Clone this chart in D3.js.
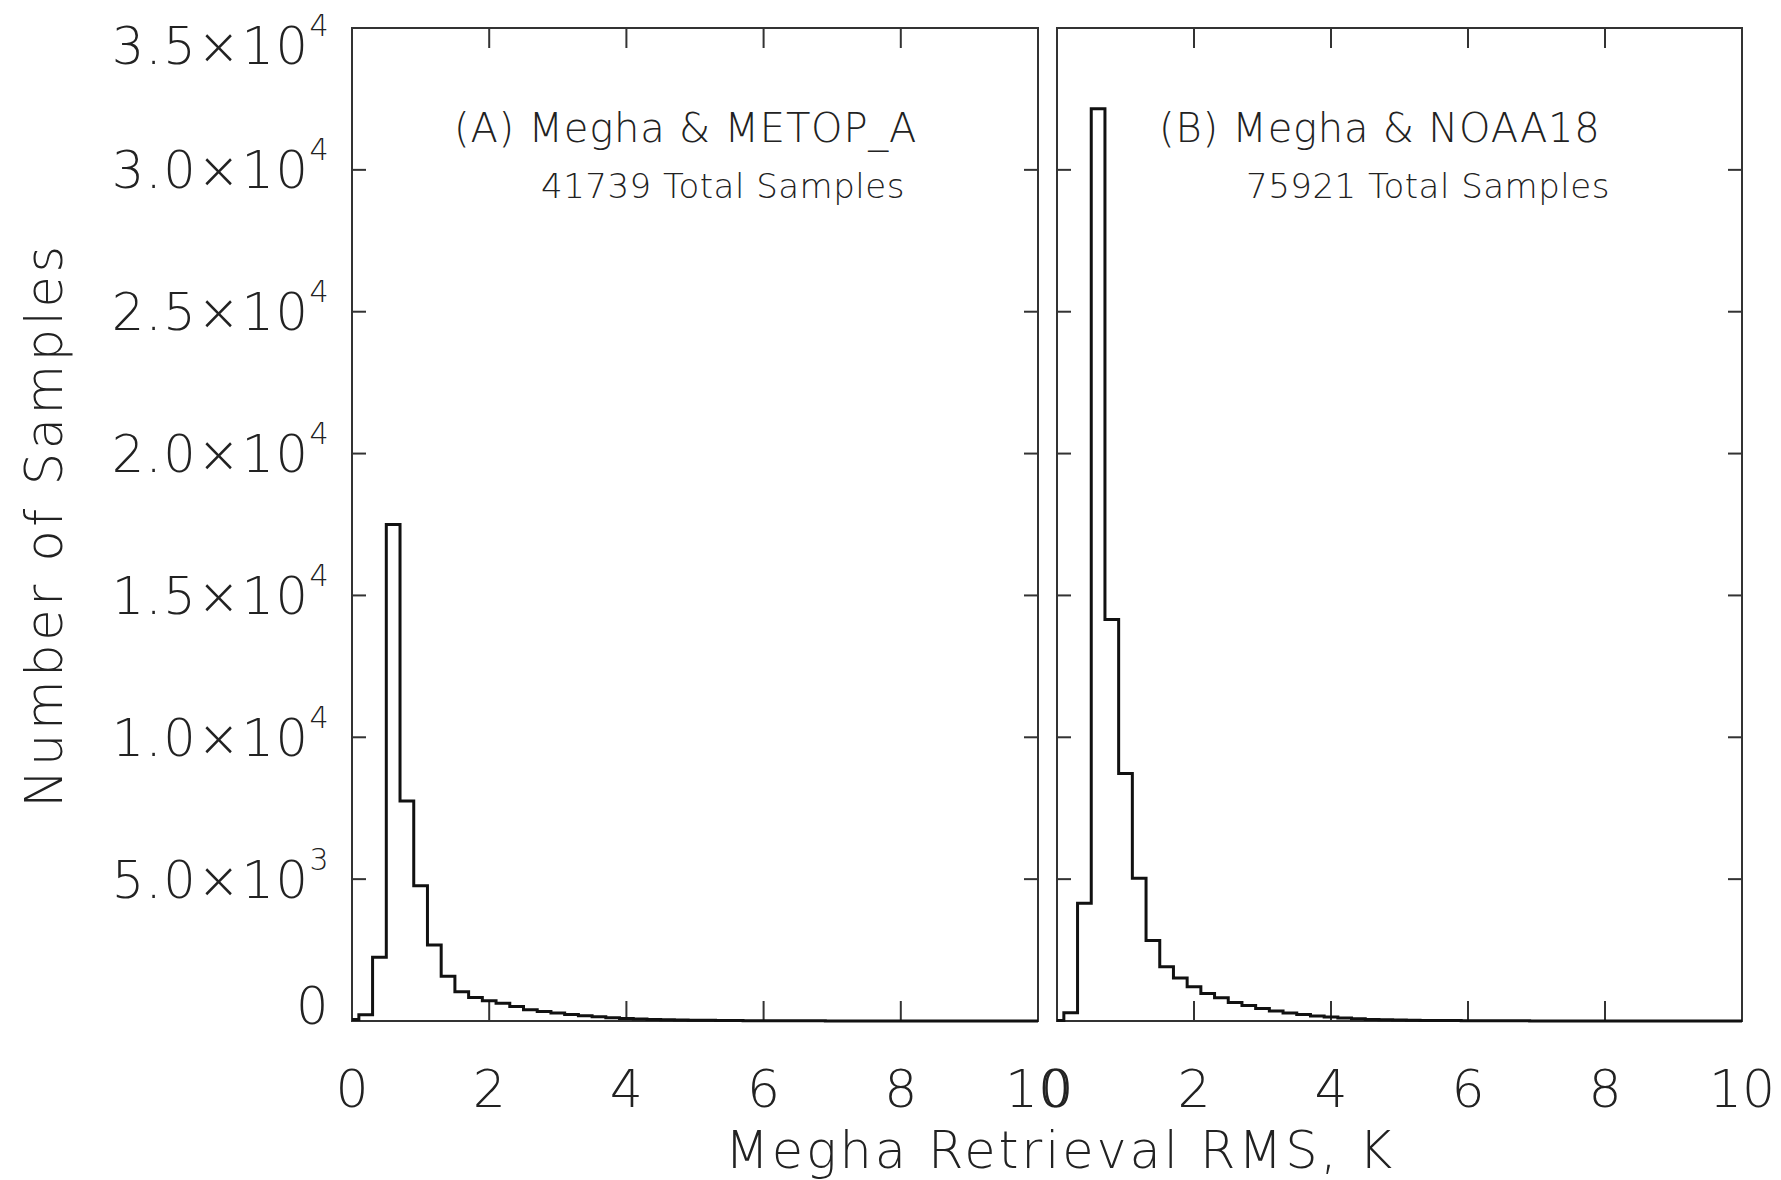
<!DOCTYPE html>
<meta charset="utf-8">

<!-- Load d3.js -->
<script src="https://d3js.org/d3.v7.min.js"></script>

<style>
  body { margin: 0; background: #fff; }
  text {
    font-family: 'DejaVu Sans', sans-serif;
    font-weight: 200;
    fill: #222;
  }
</style>

<body>
<div id="my_dataviz"></div>
</body>

<script>

// bin centres of the RMS histogram (K)
var binCenters = [0, 0.2, 0.4, 0.6, 0.8, 1.0, 1.2, 1.4, 1.6, 1.8,
                  2.0, 2.2, 2.4, 2.6, 2.8, 3.0, 3.2, 3.4, 3.6, 3.8,
                  4.0, 4.2, 4.4, 4.6, 4.8, 5.0, 5.2, 5.4, 5.6, 5.8,
                  6.0, 6.2, 6.4, 6.6, 6.8, 7.0, 7.2, 7.4, 7.6, 7.8,
                  8.0, 8.2, 8.4, 8.6, 8.8, 9.0, 9.2, 9.4, 9.6, 9.8, 10.0];

// (A) Megha & METOP_A counts
var countsA = [50, 220, 2250, 17500, 7750, 4770, 2680, 1580, 1030, 830,
               710, 630, 515, 400, 335, 280, 230, 185, 150, 118,
               92, 72, 57, 45, 36, 29, 23, 18, 15, 12,
               10, 8, 7, 6, 5, 4, 4, 3, 3, 2,
               2, 2, 1, 1, 1, 1, 1, 0, 0, 0, 0];

// (B) Megha & NOAA18 counts
var countsB = [20, 290, 4150, 32150, 14150, 8720, 5030, 2840, 1910, 1520,
               1210, 970, 820, 650, 550, 440, 350, 280, 225, 180,
               140, 105, 75, 55, 42, 33, 26, 21, 17, 14,
               11, 9, 7, 6, 5, 4, 4, 3, 3, 2,
               2, 2, 1, 1, 1, 1, 0, 0, 0, 0, 0];

var panelTitles = ["(A) Megha & METOP_A", "(B) Megha & NOAA18"];
var panelTotals = ["41739 Total Samples", "75921 Total Samples"];

// tick labels
var yTicks = [0, 5000, 10000, 15000, 20000, 25000, 30000, 35000];
var yTickMant = ["0", "5.0", "1.0", "1.5", "2.0", "2.5", "3.0", "3.5"];
var yTickExp = ["", "3", "4", "4", "4", "4", "4", "4"];
var xTicks = [0, 2, 4, 6, 8, 10];

var W = 1781, H = 1180;
var plotTop = 28, plotBottom = 1021;
var panels = [{x0: 352, x1: 1038, counts: countsA},
              {x0: 1057, x1: 1742, counts: countsB}];

var svg = d3.select("#my_dataviz")
  .append("svg")
    .attr("width", W)
    .attr("height", H);

var y = d3.scaleLinear()
  .domain([0, 35000])
  .range([plotBottom, plotTop]);

panels.forEach(function(p, i) {
  var x = d3.scaleLinear()
    .domain([0, 10])
    .range([p.x0, p.x1]);

  var g = svg.append("g");

  // frame
  g.append("rect")
    .attr("x", p.x0).attr("y", plotTop)
    .attr("width", p.x1 - p.x0).attr("height", plotBottom - plotTop)
    .attr("fill", "none")
    .attr("stroke", "#333")
    .attr("stroke-width", 2);

  // y ticks on both sides
  yTicks.forEach(function(v) {
    g.append("line")
      .attr("x1", p.x0).attr("x2", p.x0 + 14)
      .attr("y1", y(v)).attr("y2", y(v))
      .attr("stroke", "#333").attr("stroke-width", 2);
    g.append("line")
      .attr("x1", p.x1).attr("x2", p.x1 - 14)
      .attr("y1", y(v)).attr("y2", y(v))
      .attr("stroke", "#333").attr("stroke-width", 2);
  });

  // x ticks bottom and top
  xTicks.forEach(function(v) {
    g.append("line")
      .attr("x1", x(v)).attr("x2", x(v))
      .attr("y1", plotBottom).attr("y2", plotBottom - 20)
      .attr("stroke", "#333").attr("stroke-width", 2);
    g.append("line")
      .attr("x1", x(v)).attr("x2", x(v))
      .attr("y1", plotTop).attr("y2", plotTop + 20)
      .attr("stroke", "#333").attr("stroke-width", 2);
    g.append("text")
      .attr("x", x(v))
      .attr("y", 1088)
      .attr("dy", "0.36em")
      .attr("text-anchor", "middle")
      .style("font-size", "52px")
      .text(v);
  });

  // histogram, drawn as steps centred on each bin
  var line = d3.line()
    .x(function(d, j) { return x(binCenters[j]); })
    .y(function(d) { return y(d); })
    .curve(d3.curveStep);

  g.append("path")
    .datum(p.counts)
    .attr("d", line)
    .attr("fill", "none")
    .attr("stroke", "#111")
    .attr("stroke-width", 3)
    .attr("stroke-linejoin", "miter");

  // panel annotations
  g.append("text")
    .attr("x", p.x0 + 102)
    .attr("y", 142)
    .style("font-size", "40px")
    .style("letter-spacing", "0.8px")
    .text(panelTitles[i]);
  g.append("text")
    .attr("x", p.x0 + 189)
    .attr("y", 198)
    .style("font-size", "34px")
    .style("letter-spacing", "0.5px")
    .text(panelTotals[i]);
});

// y tick labels (left panel only)
yTicks.forEach(function(v, k) {
  var ly = Math.min(Math.max(y(v), 46), 1006);
  var t = svg.append("text")
    .attr("x", 330)
    .attr("y", ly)
    .attr("dy", "0.36em")
    .attr("text-anchor", "end")
    .style("font-size", "51px")
    .style("letter-spacing", "1.5px");
  t.append("tspan").text(yTickExp[k] ? yTickMant[k] + "\u00d710" : yTickMant[k]);
  if (yTickExp[k]) {
    t.append("tspan")
      .attr("dy", "-28px")
      .style("font-size", "30px")
      .text(yTickExp[k]);
  }
});

// axis titles
svg.append("text")
  .attr("x", 1060)
  .attr("y", 1168)
  .attr("text-anchor", "middle")
  .style("font-size", "51px")
  .style("letter-spacing", "2.9px")
  .text("Megha Retrieval RMS, K");

svg.append("text")
  .attr("transform", "translate(62,525)rotate(-90)")
  .attr("text-anchor", "middle")
  .style("font-size", "51px")
  .style("letter-spacing", "3.6px")
  .text("Number of Samples");

</script>
